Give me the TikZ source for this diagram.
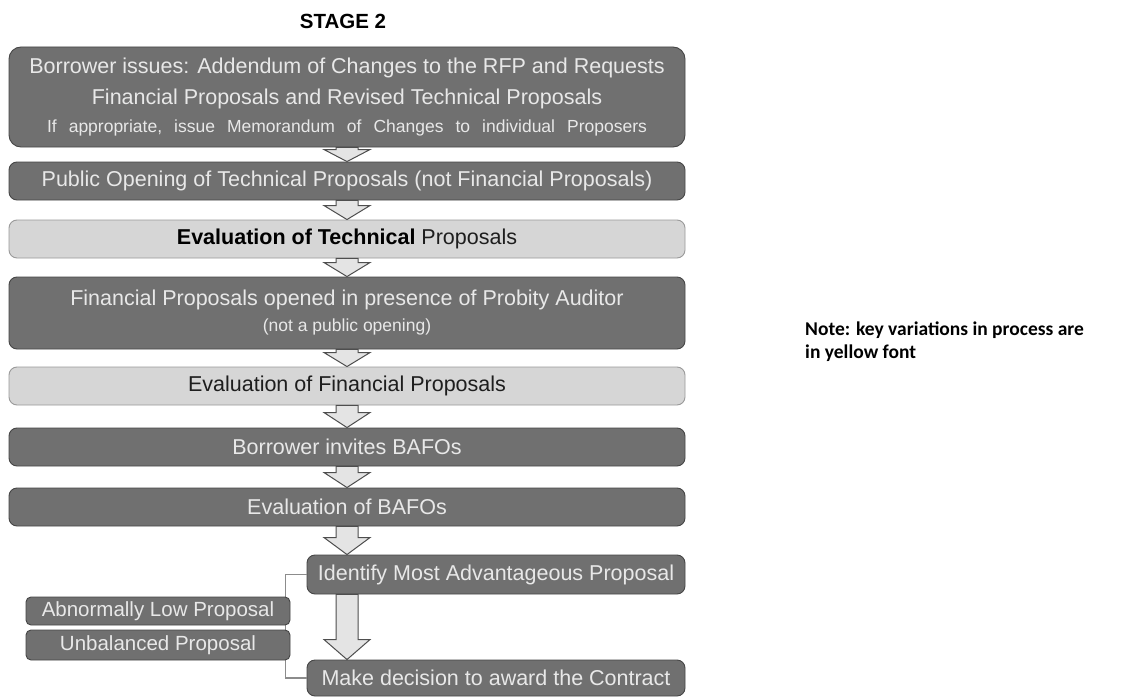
\documentclass[tikz,border=0pt]{standalone}
\usepackage{fontspec}
\setmainfont{Liberation Sans}
\newfontfamily\notefont{Carlito}
\usetikzlibrary{calc}

\definecolor{boxdark}{HTML}{707070}
\definecolor{boxdarkline}{HTML}{464646}
\definecolor{boxlight}{HTML}{D6D6D6}
\definecolor{boxlightline}{HTML}{9A9A9A}
\definecolor{darktext}{HTML}{E8E8E8}
\definecolor{lighttext}{HTML}{1E1E1E}
\definecolor{arrowfill}{HTML}{E4E4E4}
\definecolor{arrowline}{HTML}{4E4E4E}
\definecolor{bracketline}{HTML}{8C8C8C}

\tikzset{
  darkbox/.style={draw=boxdarkline, fill=boxdark, text=darktext, line width=0.9pt,
    rounded corners=8pt, inner sep=0pt, align=center,
    font=\fontsize{21.5}{31}\selectfont},
  lightbox/.style={darkbox, draw=boxlightline, fill=boxlight, text=lighttext},
  sidebox/.style={darkbox, rounded corners=5pt, font=\fontsize{20.5}{24}\selectfont},
  blockarrow/.style={draw=arrowline, fill=arrowfill, line width=1pt, line join=miter},
  bracket/.style={draw=bracketline, line width=1.2pt},
  titletext/.style={font=\fontsize{20.5}{24}\selectfont\bfseries, text=black, inner sep=0pt},
  notetext/.style={font=\notefont\fontsize{19.5}{23}\selectfont\bfseries, text=black,
    inner sep=0pt, align=left, anchor=north west},
}

% hollow block arrow on the central axis, from the bottom of #2 to the top of #3;
% the optional argument is the length of the head
\newcommand\flowarrow[3][14]{%
  \path[blockarrow] let \p1=(axis |- #2.south), \p2=(axis |- #3.north) in
    (\x1-11pt,\y1) -- (\x1+11pt,\y1) -- (\x1+11pt,\y2+#1pt) -- (\x1+23pt,\y2+#1pt)
    -- (\x2,\y2) -- (\x1-23pt,\y2+#1pt) -- (\x1-11pt,\y2+#1pt) -- cycle;}

\begin{document}
\begin{tikzpicture}[x=1pt, y=-1pt]
  \fill[white] (0,0) rectangle (1129,698);
  \useasboundingbox (0,0) rectangle (1129,698);
  \coordinate (axis) at (347,0);

  \node[titletext] (title) at (343,21) {STAGE 2};

  % main sequence of steps
  \node[darkbox, rounded corners=12pt, minimum width=676pt, minimum height=100pt] (b1) at (347,97)
    {Borrower issues: Addendum of Changes to the RFP and Requests\\
     Financial Proposals and Revised Technical Proposals\\[-3pt]
     {\fontsize{17.5}{28}\selectfont\spaceskip=12pt If appropriate, issue Memorandum of Changes to individual Proposers}};
  \node[darkbox, minimum width=676pt, minimum height=38pt] (b2) at (347,181)
    {Public Opening of Technical Proposals (not Financial Proposals)};
  \node[lightbox, minimum width=676pt, minimum height=38pt] (b3) at (347,239)
    {\textcolor{black}{\bfseries Evaluation of Technical} Proposals};
  \node[darkbox, minimum width=676pt, minimum height=72pt] (b4) at (347,313)
    {Financial Proposals opened in presence of Probity Auditor\\[-5pt]
     {\fontsize{17.5}{24}\selectfont (not a public opening)}};
  \node[lightbox, minimum width=676pt, minimum height=38pt] (b5) at (347,386)
    {Evaluation of Financial Proposals};
  \node[darkbox, minimum width=676pt, minimum height=38pt] (b6) at (347,447)
    {Borrower invites BAFOs};
  \node[darkbox, minimum width=676pt, minimum height=38pt] (b7) at (347,507)
    {Evaluation of BAFOs};
  \node[darkbox, minimum width=378pt, minimum height=39pt] (b8) at (496,574.5)
    {Identify Most Advantageous Proposal};
  \node[darkbox, minimum width=378pt, minimum height=36pt] (b9) at (496,678)
    {Make decision to award the Contract};

  % bracket joining the two checks to the last two steps
  \draw[bracket] (b8.west) -- ++(-21,0) |- (b9.west);

  % checks on the proposal
  \node[sidebox, minimum width=264pt, minimum height=28pt] (s1) at (158,611)
    {Abnormally Low Proposal};
  \node[sidebox, minimum width=264pt, minimum height=30pt] (s2) at (158,645)
    {Unbalanced Proposal};

  % arrows between the steps
  \flowarrow[12]{b1}{b2}
  \flowarrow[14]{b2}{b3}
  \flowarrow[14]{b3}{b4}
  \flowarrow[14]{b4}{b5}
  \flowarrow[15]{b5}{b6}
  \flowarrow[15]{b6}{b7}
  \flowarrow[17]{b7}{b8}
  \flowarrow[20]{b8}{b9}

  \node[notetext] (note) at (805,322)
    {Note: key variations in process are\\in yellow font};
\end{tikzpicture}
\end{document}
